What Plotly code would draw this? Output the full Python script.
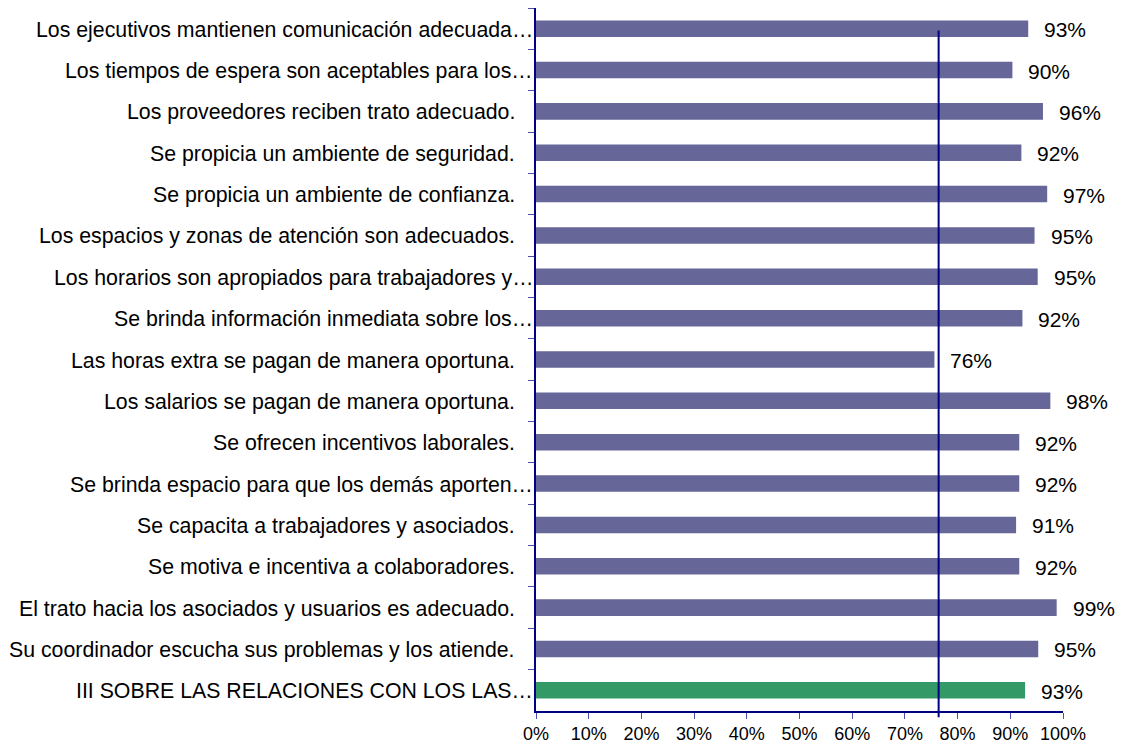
import plotly.graph_objects as go

categories = [
    "Los ejecutivos mantienen comunicación adecuada…",
    "Los tiempos de espera son aceptables para los…",
    "Los proveedores reciben trato adecuado.",
    "Se propicia un ambiente de seguridad.",
    "Se propicia un ambiente de confianza.",
    "Los espacios y zonas de atención son adecuados.",
    "Los horarios son apropiados para trabajadores y…",
    "Se brinda información inmediata sobre los…",
    "Las horas extra se pagan de manera oportuna.",
    "Los salarios se pagan de manera oportuna.",
    "Se ofrecen incentivos laborales.",
    "Se brinda espacio para que los demás aporten…",
    "Se capacita a trabajadores y asociados.",
    "Se motiva e incentiva a colaboradores.",
    "El trato hacia los asociados y usuarios es adecuado.",
    "Su coordinador escucha sus problemas y los atiende.",
    "III SOBRE LAS RELACIONES CON LOS LAS…",
]
values = [93.4, 90.4, 96.2, 92.1, 97.0, 94.6, 95.2, 92.3, 75.6, 97.6,
          91.7, 91.7, 91.1, 91.7, 98.8, 95.3, 92.8]
ref_value = 76.4
x_ticks = list(range(0, 101, 10))

C_BAR = "#666699"; C_TOTAL = "#339966"; C_AXIS = "#000080"
FONT = "Liberation Sans, Arial, sans-serif"

colors = [C_BAR] * (len(values) - 1) + [C_TOTAL]

fig = go.Figure(go.Bar(x=values, y=categories, orientation="h",
                       marker=dict(color=colors, line=dict(width=0)), width=0.4))

# value labels right of each bar
for c, v in zip(categories, values):
    fig.add_annotation(x=v, y=c, text=f"{v:.0f}%", showarrow=False, xanchor="left",
                       xshift=14, yshift=-1, font=dict(family=FONT, size=21, color="#000000"))

# category labels (truncated ones run up to the axis, like the original)
for c in categories:
    fig.add_annotation(x=0, xref="paper", y=c, text=c, showarrow=False, xanchor="right",
                       xshift=-1 if c.endswith("…") else -19, yshift=-1,
                       font=dict(family=FONT, size=21.3, color="#000000"))

fig.add_shape(type="line", x0=ref_value, x1=ref_value, xref="x", yref="paper",
              y0=-0.009, y1=0.968, line=dict(color=C_AXIS, width=2), opacity=1, layer="above")

# page body has an 8px margin, so the figure is 8px smaller than the window
fig.update_layout(
    width=1120, height=736, template="none", showlegend=False,
    paper_bgcolor="white", plot_bgcolor="white",
    margin=dict(l=528, r=65, t=0, b=33),
    font=dict(family=FONT, color="#000000"),
)
fig.update_xaxes(range=[0, 100], tickvals=x_ticks, ticktext=[f"{t}%" for t in x_ticks],
                 showline=True, linecolor=C_AXIS, linewidth=1.5, ticks="outside", ticklen=6,
                 tickcolor="#4d4dae", tickfont=dict(size=18, family=FONT), showgrid=False,
                 zeroline=False, automargin=False)
fig.update_yaxes(autorange="reversed", showline=True, linecolor=C_AXIS, linewidth=1.5,
                 ticks="outside", ticklen=6, tickson="boundaries", tickcolor="#4d4dae",
                 showticklabels=False, showgrid=False, zeroline=False, automargin=False)

fig.write_html("out.html")
